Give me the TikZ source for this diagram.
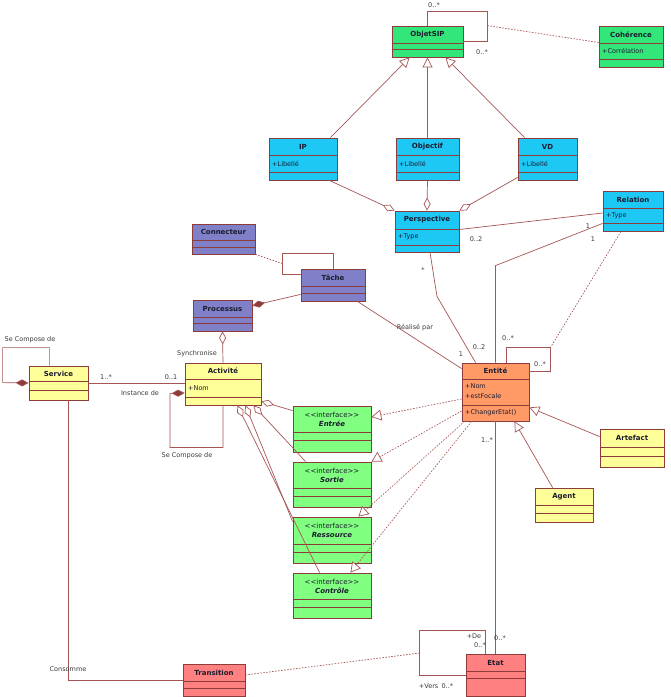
\documentclass[tikz,border=0pt]{standalone}
\usepackage{fontspec}
\setmainfont{DejaVu Sans}
\usepackage{tikz}
\usetikzlibrary{calc,arrows.meta,fit}
\definecolor{edge}{HTML}{8E3B3B}
\definecolor{wire}{HTML}{A65555}
\definecolor{ink}{HTML}{1C1C30}
\definecolor{muted}{HTML}{3A3A3A}
\definecolor{sipgreen}{HTML}{33E67A}
\definecolor{ifgreen}{HTML}{80FF80}
\definecolor{skyblue}{HTML}{1EC8F5}
\definecolor{lilac}{HTML}{8080C8}
\definecolor{paleyellow}{HTML}{FFFF99}
\definecolor{salmon}{HTML}{FF9966}
\definecolor{rose}{HTML}{FF8080}
\tikzset{
  classbox/.style={draw=edge, line width=0.8pt, inner sep=0pt},
  partline/.style={draw=edge, line width=0.8pt},
  clstitle/.style={text=ink, font=\fontsize{7}{9}\selectfont\bfseries, align=center, inner sep=0pt},
  attr/.style={text=ink, font=\fontsize{6.5}{7.5}\selectfont, anchor=west, inner sep=0pt},
  lab/.style={text=muted, font=\fontsize{6.5}{7.5}\selectfont, inner sep=0pt},
  assoc/.style={draw=wire, line width=0.7pt},
  dotline/.style={draw=wire, line width=0.7pt, dash pattern=on 1.5pt off 1.5pt},
  gen/.style={assoc, -{Triangle[open, length=10pt, width=10pt, fill=white]}},
  real/.style={dotline, -{Triangle[open, length=10pt, width=11pt, fill=white]}},
  agg/.style={assoc, -{Diamond[open, length=13pt, width=7pt, fill=white]}},
  comp/.style={assoc, -{Diamond[length=13pt, width=7pt, fill=edge]}},
}
% box with name, fill, left, top, right, bottom, two separators, title
\newcommand{\umlclass}[9]{%
  \node[classbox, fill=#2, fit={(#3,#4) (#5,#6)}] (#1) {};
  \draw[partline] (#3,#7) -- (#5,#7);
  \draw[partline] (#3,#8) -- (#5,#8);
  \node[clstitle] (#1-t) at ({(#3+#5)/2},{(#4+#7)/2}) {#9};
}
% plain angle brackets, kept apart so they do not turn into guillemets
\newcommand{\stereo}[1]{\textless\kern0pt\textless#1\textgreater\kern0pt\textgreater}

\begin{document}
\begin{tikzpicture}[x=1pt, y=-1pt]
\useasboundingbox (0,0) rectangle (671,697);
\fill[white] (0,0) rectangle (671,697);

% ObjetSIP and its coherence
\umlclass{objetsip}{sipgreen}{392}{26}{463}{57}{43}{49}{ObjetSIP}
\umlclass{coherence}{sipgreen}{599}{26}{663}{67}{43}{59}{Cohérence}
\node[attr] (coherence-a) at (602,51) {+Corrélation};

% perspectives
\umlclass{ip}{skyblue}{269}{138}{337}{180}{155}{172}{IP}
\node[attr] (ip-a) at (272,164) {+Libellé};
\umlclass{objectif}{skyblue}{396}{138}{459}{180}{155}{172}{Objectif}
\node[attr] (objectif-a) at (399,164) {+Libellé};
\umlclass{vd}{skyblue}{518}{138}{577}{180}{155}{172}{VD}
\node[attr] (vd-a) at (521,164) {+Libellé};
\umlclass{perspective}{skyblue}{395}{211}{459}{252}{229}{245}{Perspective}
\node[attr] (perspective-a) at (398,237) {+Type};
\umlclass{relation}{skyblue}{603}{191}{663}{231}{208}{223}{Relation}
\node[attr] (relation-a) at (606,215.5) {+Type};

% processes
\umlclass{connecteur}{lilac}{192}{224}{255}{254}{240}{247}{Connecteur}
\umlclass{tache}{lilac}{301}{269}{365}{301}{286}{293}{Tâche}
\umlclass{processus}{lilac}{193}{300}{252}{331}{317}{323}{Processus}

% services, activities, actors
\umlclass{service}{paleyellow}{29}{366}{88}{400}{381}{390}{Service}
\umlclass{activite}{paleyellow}{185}{363}{261}{405}{379}{397}{Activité}
\node[attr] (activite-a) at (188,388) {+Nom};
\umlclass{artefact}{paleyellow}{600}{429}{664}{467}{447}{456}{Artefact}
\umlclass{agent}{paleyellow}{535}{488}{593}{522}{505}{513}{Agent}

% entity
\umlclass{entite}{salmon}{462}{363}{529}{421}{379}{405}{Entité}
\node[attr] (entite-a1) at (465,386) {+Nom};
\node[attr] (entite-a2) at (465,396.5) {+estFocale};
\node[attr] (entite-op) at (465,413) {+ChangerEtat()};

% interfaces
\umlclass{entree}{ifgreen}{293}{406}{371}{452}{432}{440}{{\mdseries\stereo{interface}}\\\textit{Entrée}}
\umlclass{sortie}{ifgreen}{293}{462}{371}{507}{488}{496}{{\mdseries\stereo{interface}}\\\textit{Sortie}}
\umlclass{ressource}{ifgreen}{293}{517}{371}{563}{544}{552}{{\mdseries\stereo{interface}}\\\textit{Ressource}}
\umlclass{controle}{ifgreen}{293}{573}{371}{618}{599}{607}{{\mdseries\stereo{interface}}\\\textit{Contrôle}}

% states
\umlclass{transition}{rose}{183}{664}{245}{696}{681}{688}{Transition}
\umlclass{etat}{rose}{466}{654}{525}{696}{671}{678}{Etat}

% generalisations
\draw[gen] ($(ip.north east)+(-7,0)$) -- ($(objetsip.south west)+(18,0)$);
\draw[gen] (objectif.north) -- (objetsip.south);
\draw[gen] ($(vd.north west)+(7,0)$) -- ($(objetsip.south east)+(-18,0)$);
\draw[gen] ($(artefact.north west)+(0,8)$) -- ($(entite.south east)+(0,-14)$);
\draw[gen] ($(agent.north west)+(18,0)$) -- ($(entite.south east)+(-15,0)$);

% aggregations into Perspective
\draw[agg] ($(ip.south east)+(-8,0)$) -- (perspective.north west);
\draw[agg] (objectif.south) -- (perspective.north);
\draw[agg] ($(vd.south west)+(0,-3)$) -- (perspective.north east);

% ObjetSIP self link, Coherence
\draw[assoc] (objetsip.north) -- ++(0,-14) -| ($(objetsip.east)+(24,0)$) -- (objetsip.east);
\coordinate (sipmid) at ($(objetsip.north east)+(24,0)$);
\draw[dotline] (sipmid) -- ($(coherence.west)+(0,-4)$);

% Perspective, Relation, Entite
\draw[assoc] ($(perspective.east)+(0,-2)$) -- ($(relation.west)+(0,2)$);
\draw[assoc] ($(relation.south west)+(0,-8)$) -- ($(entite.north)+(0,-97)$) -- (entite.north);
\draw[assoc] ($(entite.north west)+(45,0)$) -- ++(0,-15) -| ($(entite.north east)+(21,9)$) -- ($(entite.north east)+(0,9)$);
\coordinate (entloop) at ($(entite.north east)+(21,-15)$);
\draw[dotline] ($(relation.south)+(-12,0)$) -- (entloop);
\draw[assoc] ($(perspective.south)+(3,0)$) -- ++(7,44) -- ($(entite.north west)+(14,0)$);
\draw[assoc] ($(tache.south east)+(-8,0)$) -- ($(entite.north west)+(0,6)$);

% Tache, Connecteur, Processus
\draw[assoc] (tache.north) -- ++(0,-15) -| ($(tache.north west)+(-18,6)$) -- ($(tache.north west)+(0,6)$);
\coordinate (tacheloop) at ($(tache.north west)+(-18,-5)$);
\draw[dotline] (connecteur.south east) -- (tacheloop);
\draw[comp] ($(tache.south west)+(0,-7)$) -- ($(processus.north east)+(0,6)$);
\draw[agg] (activite.north) -- (processus.south);

% Service
\draw[comp] ($(service.north west)+(21,0)$) -- ++(0,-18) -| ++(-47,35) -- (service.west);
\draw[assoc] (service.east) -- (service.east -| activite.west);
\draw[assoc] ($(service.south)+(10,0)$) |- (transition.west);

% Activite and its interfaces
\draw[comp] (activite.south) -- ++(0,42) -| ++(-53,-54) -- ($(activite.west)+(0,9)$);
\draw[agg] ($(entree.north west)+(0,5)$) -- ($(activite.south east)+(0,-4)$);
\draw[agg] ($(sortie.north west)+(13,0)$) -- ($(activite.south east)+(-8,0)$);
\draw[agg] ($(ressource.north west)+(0,5)$) -- ($(activite.south east)+(-16,0)$);
\draw[agg] ($(controle.north west)+(27,0)$) -- ($(activite.south east)+(-24,0)$);

% realisations by Entite
\draw[real] ($(entite.west)+(0,7)$) -- ($(entree.east)+(0,-12)$);
\draw[real] ($(entite.west)+(0,19)$) -- (sortie.north east);
\draw[real] ($(entite.south west)+(3,0)$) -- ($(ressource.north east)+(-13,0)$);
\draw[real] ($(entite.south west)+(10,0)$) -- ($(controle.north east)+(-21,0)$);

% Etat
\draw[assoc] (entite.south) -- (etat.north);
\draw[assoc] ($(etat.north west)+(20,0)$) -- ++(0,-23) -| ($(etat.west)+(-46,0)$) -- (etat.west);
\coordinate (etatloop) at ($(etat.west)+(-46,-22)$);
\draw[dotline] ($(transition.east)+(0,-5)$) -- (etatloop);

% role names and multiplicities
\node[lab] (sip-m1) at (434,5) {0..*};
\node[lab] (sip-m2) at (482,52) {0..*};
\node[lab] (svc-self) at (30,340) {Se Compose de};
\node[lab] (svc-m) at (106,377) {1..*};
\node[lab] (act-m) at (171,377) {0..1};
\node[lab] (act-inst) at (140,393) {Instance de};
\node[lab] (act-sync) at (197,354) {Synchronise};
\node[lab] (act-self) at (187,456) {Se Compose de};
\node[lab] (tache-real) at (415,328) {Réalisé par};
\node[lab] (persp-m1) at (423,270) {*};
\node[lab] (persp-m2) at (476,239) {0..2};
\node[lab] (rel-m1) at (588,226) {1};
\node[lab] (rel-m2) at (593,239) {1};
\node[lab] (ent-m1) at (479,347) {0..2};
\node[lab] (ent-m2) at (461,354) {1};
\node[lab] (ent-m3) at (508,338) {0..*};
\node[lab] (ent-m4) at (540,364) {0..*};
\node[lab] (ent-m5) at (487,440) {1..*};
\node[lab] (etat-de) at (474,636) {+De};
\node[lab] (etat-m1) at (480,645) {0..*};
\node[lab] (etat-m2) at (500,638) {0..*};
\node[lab] (etat-vers) at (436,686) {+Vers\enspace 0..*};
\node[lab] (svc-cons) at (68,669) {Consomme};
\end{tikzpicture}
\end{document}
